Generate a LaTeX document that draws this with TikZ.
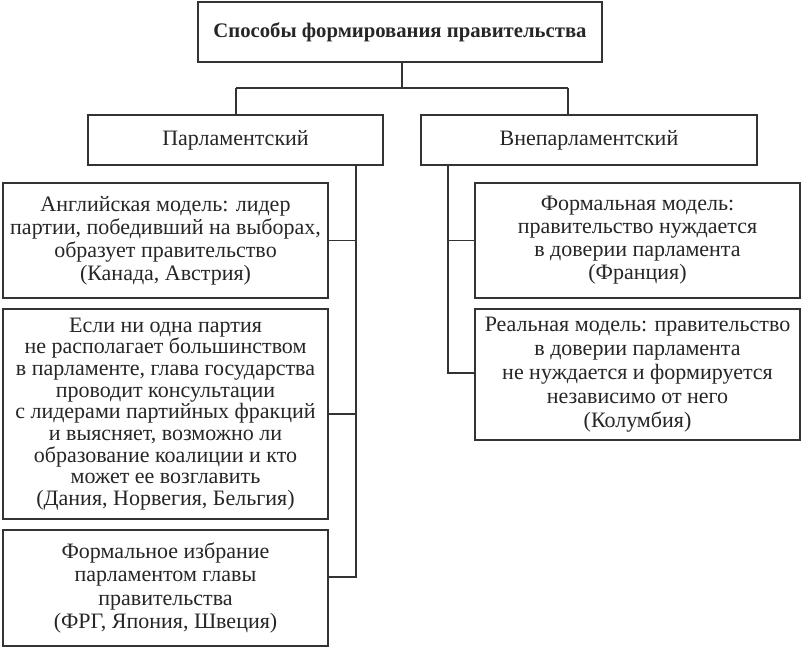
\documentclass[tikz,border=0pt]{standalone}
\usepackage{fontspec}
\setmainfont{Liberation Serif}

\begin{document}
\begin{tikzpicture}[x=1pt,y=-1pt]
\tikzstyle{every node}+=[inner sep=0pt]
\tikzstyle{box}=[draw=black!80, line width=1.1pt, fill=white, align=center, text=black!85, font=\fontsize{22}{23}\selectfont]
\tikzstyle{link}=[draw=black!80, line width=1.1pt]
\useasboundingbox (0,0) rectangle (802,648);
\node [box, minimum width=404, minimum height=60, font=\fontsize{20.7}{23}\selectfont] (sposoby) at (400,32) {\bfseries Способы формирования правительства};
\node [box, minimum width=295, minimum height=50] (parl) at (235.5,140) {Парламентский};
\node [box, minimum width=336, minimum height=50] (vnepar) at (589,140) {Внепарламентский};
\node [box, minimum width=325, minimum height=115] (angl) at (165.5,240.5) {Английская модель: лидер\\партии, победивший на выборах,\\образует правительство\\(Канада, Австрия)};
\node [box, minimum width=325, minimum height=210, font=\fontsize{22}{21.7}\selectfont] (esli) at (165.5,414) {Если ни одна партия\\не располагает большинством\\в парламенте, глава государства\\проводит консультации\\с лидерами партийных фракций\\и выясняет, возможно ли\\образование коалиции и кто\\может ее возглавить\\(Дания, Норвегия, Бельгия)};
\node [box, minimum width=325, minimum height=116, font=\fontsize{22}{23.3}\selectfont] (formizbr) at (165.5,588) {Формальное избрание\\парламентом главы\\правительства\\(ФРГ, Япония, Швеция)};
\node [box, minimum width=325, minimum height=115] (formmod) at (637.5,240.5) {Формальная модель:\\правительство нуждается\\в доверии парламента\\(Франция)};
\node [box, minimum width=325, minimum height=131, font=\fontsize{22}{24}\selectfont] (realmod) at (637.5,374.5) {Реальная модель: правительство\\в доверии парламента\\не нуждается и формируется\\независимо от него\\(Колумбия)};
% top split
\coordinate (split) at (402,88);
\coordinate (lt) at (236,88);
\coordinate (rt) at (568,88);
\draw [link] (sposoby.south -| split) -- (split);
\draw [link] (lt) -- (rt);
\draw [link] (lt) -- (lt |- parl.north);
\draw [link] (rt) -- (rt |- vnepar.north);
% left branch
\coordinate (lspine) at (356,577);
\draw [link] (parl.south -| lspine) |- (formizbr.east |- lspine);
\draw [link] (angl.east) -- (angl.east -| lspine);
\draw [link] (esli.east) -- (esli.east -| lspine);
% right branch
\coordinate (rspine) at (448,373);
\draw [link] (vnepar.south -| rspine) |- (realmod.west |- rspine);
\draw [link] (formmod.west) -- (formmod.west -| rspine);
\end{tikzpicture}
\end{document}
